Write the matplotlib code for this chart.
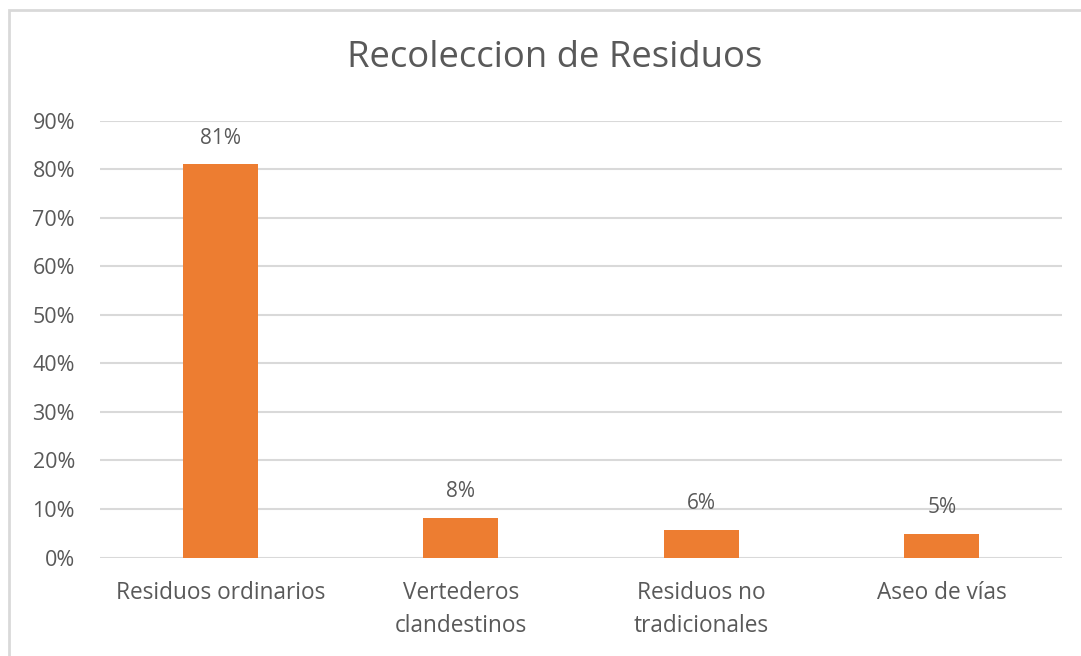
import matplotlib.pyplot as plt
from matplotlib.patches import Rectangle
from matplotlib.ticker import PercentFormatter

categorias = ['Residuos ordinarios', 'Vertederos\nclandestinos', 'Residuos no\ntradicionales', 'Aseo de vías']
valores = [0.81, 0.082, 0.056, 0.049]
etiquetas = ['81%', '8%', '6%', '5%']

plt.rcParams['font.family'] = ['Open Sans', 'DejaVu Sans']
gris = '#595959'

fig = plt.figure(figsize=(10.81, 6.56), dpi=100)
# borde del grafico
fig.patches.append(Rectangle((9 / 1081, -0.05), 1.2, (656 - 10) / 656 + 0.05,
                             transform=fig.transFigure, fill=False,
                             edgecolor='#D9D9D9', linewidth=2))

ax = fig.add_axes([100 / 1081, 98.5 / 656, 962 / 1081, 436.8 / 656])
x = range(len(categorias))
bars = ax.bar(x, valores, width=0.3125, color='#ED7D31', zorder=3)

for bar, lab in zip(bars, etiquetas):
    ax.text(bar.get_x() + bar.get_width() / 2, bar.get_height() + 0.043, lab,
            ha='center', va='baseline', fontsize=15, color=gris)

ax.set_xlim(-0.5, 3.5)
ax.set_ylim(0, 0.9)
ax.set_yticks([i / 10 for i in range(10)])
ax.yaxis.set_major_formatter(PercentFormatter(1.0, decimals=0))
ax.set_xticks(list(x))
ax.tick_params(axis='both', length=0, colors=gris)
ax.tick_params(axis='x', pad=17, labelsize=16.3)
ax.tick_params(axis='y', pad=18, labelsize=15.5)
ax.set_xticklabels(categorias, linespacing=1.5)
ax.grid(axis='y', color='#D9D9D9', linewidth=1.5, zorder=0)
for s in ax.spines.values():
    s.set_visible(False)

fig.text(555 / 1081, 1 - 58 / 656, 'Recoleccion de Residuos', ha='center', va='center',
         fontsize=26.3, color=gris)

fig.savefig('out.png', dpi=100)
